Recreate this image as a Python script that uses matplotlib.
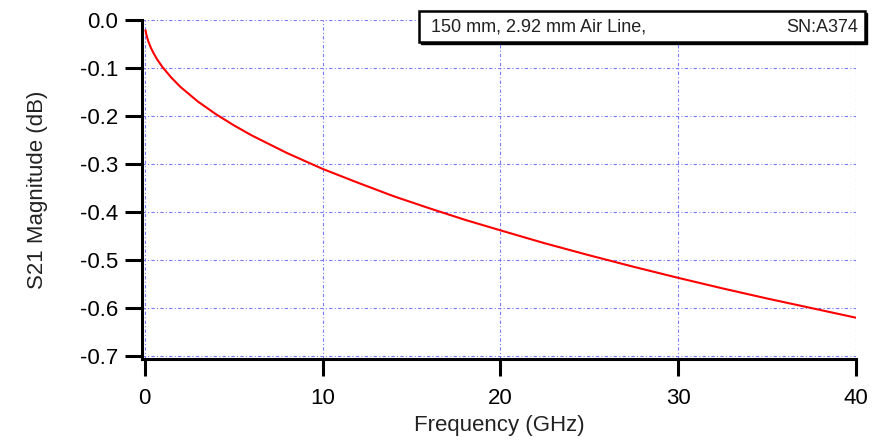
import matplotlib
matplotlib.use('Agg')
import matplotlib.pyplot as plt
from matplotlib.patches import Rectangle

# Datos
freq_ghz = [0.05, 0.1, 0.2, 0.35, 0.5, 0.7, 1, 1.5, 2, 3, 4, 5, 6, 8, 10, 12,
            14, 16, 18, 20, 22.5, 25, 27.5, 30, 32.5, 35, 37.5, 40]
s21_db = [-0.022, -0.031, -0.044, -0.058, -0.069, -0.082, -0.098, -0.120,
          -0.139, -0.170, -0.196, -0.219, -0.240, -0.277, -0.310, -0.339,
          -0.367, -0.392, -0.416, -0.438, -0.465, -0.490, -0.514, -0.537,
          -0.559, -0.580, -0.600, -0.620]
x_ticks = [0, 10, 20, 30, 40]
y_ticks = [0.0, -0.1, -0.2, -0.3, -0.4, -0.5, -0.6, -0.7]
y_tick_labels = ['0.0', '-0.1', '-0.2', '-0.3', '-0.4', '-0.5', '-0.6', '-0.7']
legend_left = '150 mm, 2.92 mm Air Line,'
legend_right = 'SN:A374'

plt.rcParams['font.family'] = ['Liberation Sans', 'DejaVu Sans']

W, H = 885, 440
fig = plt.figure(figsize=(W / 100, H / 100), dpi=100)
ax = fig.add_axes([142 / W, (H - 359) / H, (856 - 142) / W, (359 - 20) / H])

ax.plot(freq_ghz, s21_db, color='red', linewidth=1.5, zorder=3)

ax.set_xlim(-0.15, 40)
ax.set_ylim(-0.706, 0.0)
ax.set_xticks(x_ticks)
ax.set_yticks(y_ticks)
ax.set_yticklabels(y_tick_labels)

# Rejilla azul punteada
ax.grid(True, color='#7a7aff', linestyle=(0, (3, 2, 1, 2)), linewidth=0.8)
ax.set_axisbelow(True)

for side in ['top', 'right']:
    ax.spines[side].set_visible(False)
for side in ['left', 'bottom']:
    ax.spines[side].set_linewidth(2.2)
ax.tick_params(direction='out', length=12, width=2.2, labelsize=16, colors='black')
ax.tick_params(axis='y', pad=5)
ax.tick_params(axis='x', pad=9)

ax.set_xlabel('Frequency (GHz)', fontsize=16, color='#222222', labelpad=4)
ax.set_ylabel('S21 Magnitude (dB)', fontsize=16, color='#222222', labelpad=23)

# Cuadro de leyenda con sombra
fig.patches.append(Rectangle((421 / W, (H - 44) / H), 446 / W, 31 / H,
                             transform=fig.transFigure, facecolor='black',
                             edgecolor='black', zorder=4))
fig.patches.append(Rectangle((419 / W, (H - 42) / H), 446 / W, 31 / H,
                             transform=fig.transFigure, facecolor='white',
                             edgecolor='black', linewidth=1.8, zorder=5))
fig.text(431 / W, (H - 27) / H, legend_left, fontsize=13, va='center',
         ha='left', color='#222222', zorder=6)
fig.text(858 / W, (H - 27) / H, legend_right, fontsize=13, va='center',
         ha='right', color='#222222', zorder=6)

fig.savefig('out.png', dpi=100)
